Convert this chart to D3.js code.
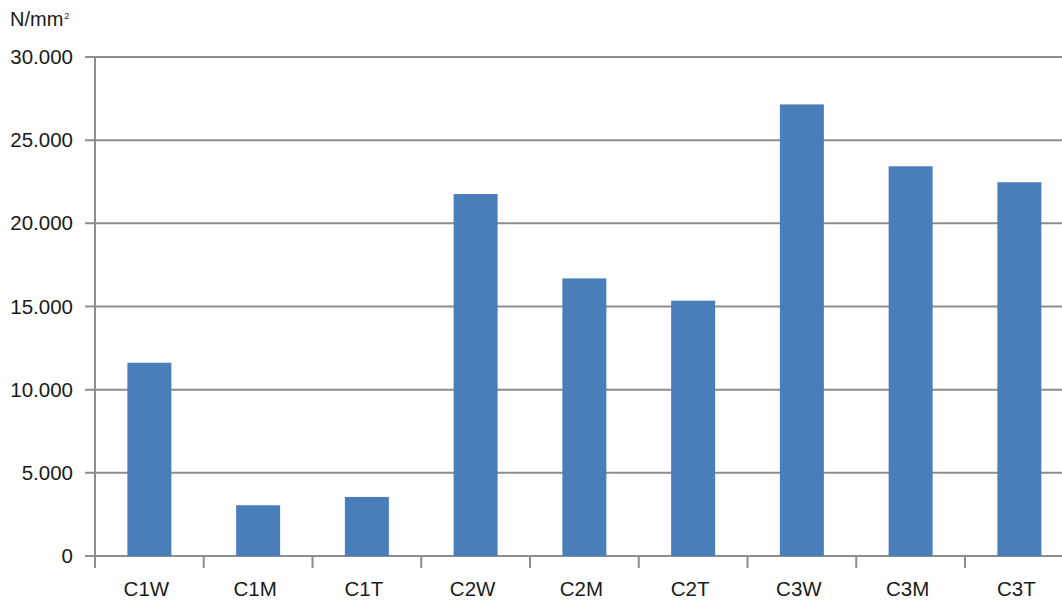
<!DOCTYPE html>
<html><head><meta charset="utf-8">
<script src="https://cdn.jsdelivr.net/npm/d3@7"></script>
<style>body{margin:0;background:#fff}svg{display:block}text{font-family:"Liberation Sans",Arial,sans-serif;fill:#1a1a1a}</style>
</head><body>
<script>
const categories = ["C1W","C1M","C1T","C2W","C2M","C2T","C3W","C3M","C3T"];
const values = [11.62, 3.05, 3.55, 21.76, 16.69, 15.35, 27.15, 23.43, 22.47];
const yTicks = [0, 5, 10, 15, 20, 25, 30];
const yTickLabels = ["0","5.000","10.000","15.000","20.000","25.000","30.000"];
const unitLabel = "N/mm";

const W = 1062, H = 601;
const svg = d3.select("body").append("svg").attr("width", W).attr("height", H);
const x0 = 95, step = 108.75;
const x = d3.scaleBand().domain(categories).range([x0, x0 + step * categories.length]).padding(0);
const y = d3.scaleLinear().domain([0, 30]).range([556, 57]);
const grid = "#8d8d8d";

svg.append("g").selectAll("line").data(yTicks).join("line")
  .attr("x1", 85).attr("x2", W).attr("y1", d => y(d)).attr("y2", d => y(d))
  .attr("stroke", grid).attr("stroke-width", 2);

svg.append("line").attr("x1", x0).attr("x2", x0).attr("y1", y(30)).attr("y2", 568)
  .attr("stroke", grid).attr("stroke-width", 2);

svg.append("g").selectAll("line").data(categories.slice(1)).join("line")
  .attr("x1", d => x(d)).attr("x2", d => x(d)).attr("y1", y(0)).attr("y2", 568)
  .attr("stroke", grid).attr("stroke-width", 2);

const bw = 44;
svg.append("g").selectAll("rect").data(categories).join("rect")
  .attr("x", d => x(d) + x.bandwidth() / 2 - bw / 2)
  .attr("width", bw)
  .attr("y", (d, i) => y(values[i]))
  .attr("height", (d, i) => y(0) - y(values[i]))
  .attr("fill", "#4a7ebb");

svg.append("g").selectAll("text").data(yTicks).join("text")
  .attr("x", 73).attr("y", d => y(d) + 7)
  .attr("text-anchor", "end").attr("font-size", 20.5)
  .text((d, i) => yTickLabels[i]);

svg.append("g").selectAll("text").data(categories).join("text")
  .attr("x", d => x(d) + x.bandwidth() / 2 - 3).attr("y", 596)
  .attr("text-anchor", "middle").attr("font-size", 20.5)
  .text(d => d);

const u = svg.append("text").attr("x", 10).attr("y", 26).attr("font-size", 20);
u.append("tspan").text(unitLabel);
u.append("tspan").attr("font-size", 9).attr("dy", -7).attr("dx", 1).text("2");
</script>
</body></html>
